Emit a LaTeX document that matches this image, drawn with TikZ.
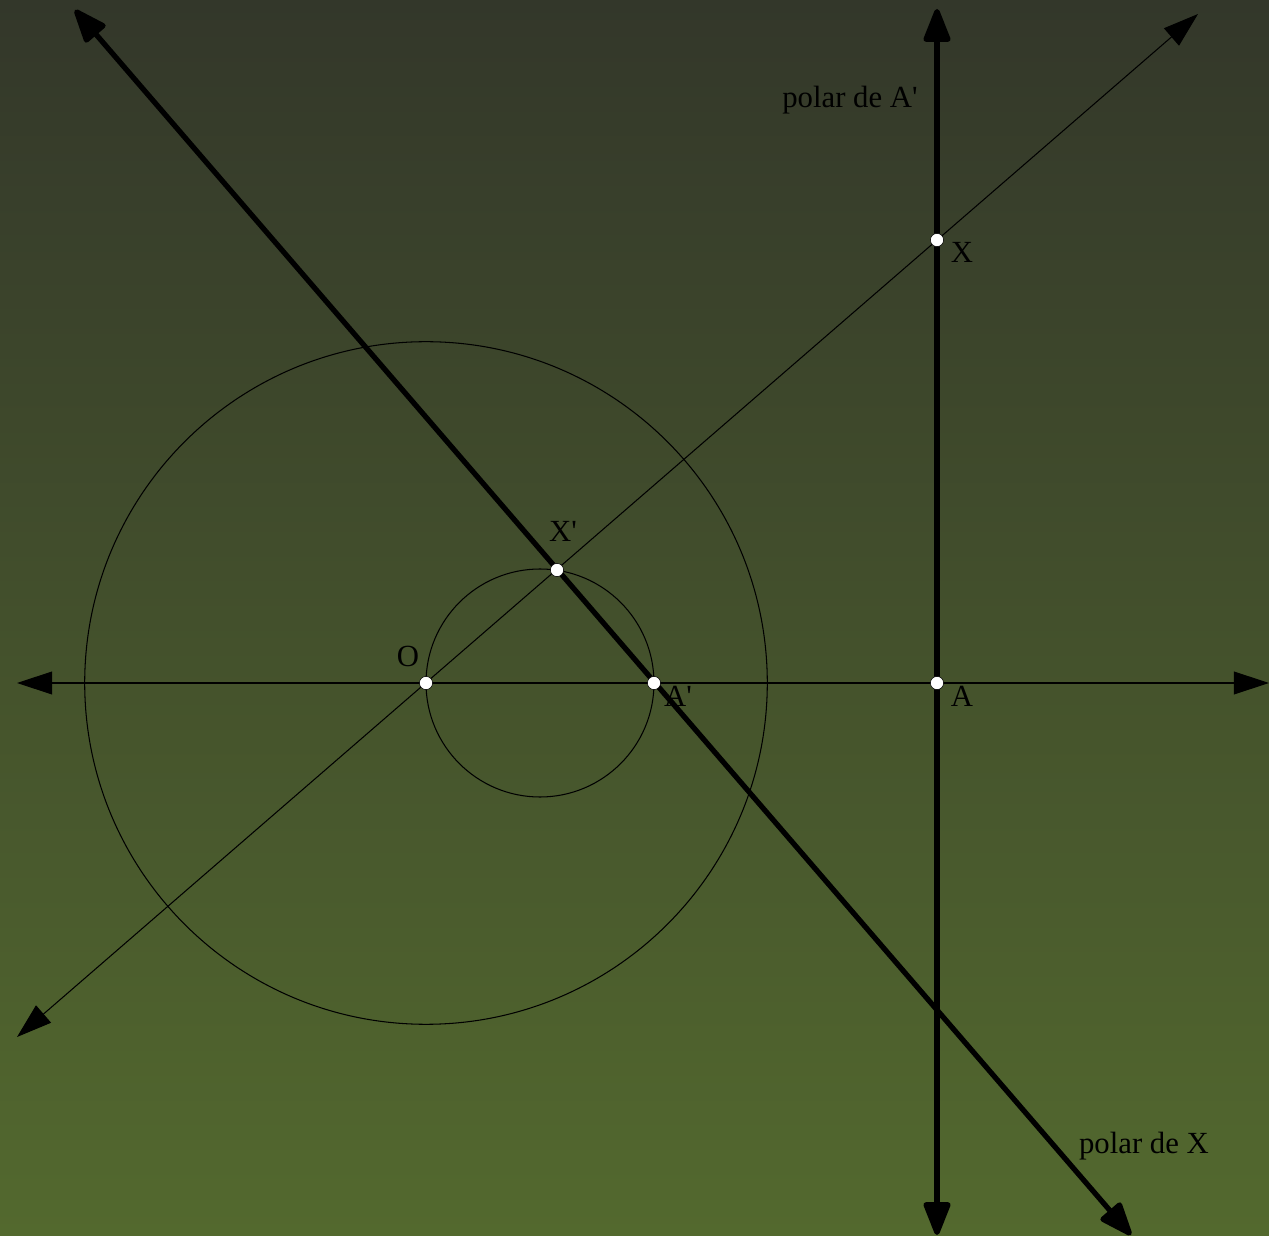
\documentclass[tikz,border=0pt]{standalone}
\usepackage{fontspec}
\setmainfont{Liberation Serif}
\usepackage{tikz}
\usetikzlibrary{arrows.meta}

\definecolor{bgtop}{RGB}{51,55,42}
\definecolor{bgbottom}{RGB}{83,105,46}

\begin{document}
\begin{tikzpicture}[x=0.02cm,y=-0.02cm,
    thin tip/.tip={Triangle[length=20pt,width=13pt]},
    thick tip/.tip={Triangle[length=21.5pt,width=16pt,round]},
    thinline/.style={line width=0.6pt,thin tip-thin tip},
    thickline/.style={line width=3pt,thick tip-thick tip},
    pt/.style={circle,fill=white,draw=black,line width=0.3pt,inner sep=0pt,minimum size=7.5pt},
    lbl/.style={anchor=base,inner sep=0pt,font=\fontsize{17.5}{19}\selectfont}]
                        % Background
                        \useasboundingbox (0,0) rectangle (1269,1236);
                        \shade[top color=bgtop, bottom color=bgbottom] (0,0) rectangle (1269,1236);

                        % Points
                        \coordinate (O) at (426,683);
                        \coordinate (Ap) at (654,683);
                        \coordinate (A) at (937,683);
                        \coordinate (X) at (937,240);
                        \coordinate (Xp) at (557,570);
                        \coordinate (C) at (540,683);

                        % Ends of lines
                        \coordinate (hl) at (17,683);
                        \coordinate (hr) at (1269,683);
                        \coordinate (ol) at (17,1037);
                        \coordinate (or) at (1198,14);
                        \coordinate (pxl) at (75,10);
                        \coordinate (pxr) at (1131,1235);
                        \coordinate (pal) at (937,9);
                        \coordinate (par) at (937,1235);

                        % Circles
                        \draw[line width=0.6pt] (O) circle[radius=341.3];
                        \draw[line width=0.6pt] (C) circle[radius=114];

                        % Lines
                        \draw[thinline] (hl) -- (hr);
                        \draw[thinline] (ol) -- (or);
                        \draw[thickline] (pxl) -- (pxr);
                        \draw[thickline] (pal) -- (par);

                        % Nodes
                        \node[pt] (o) at (O) {};
                        \node[pt] (ap) at (Ap) {};
                        \node[pt] (a) at (A) {};
                        \node[pt] (x) at (X) {};
                        \node[pt] (xp) at (Xp) {};

                        % Labels
                        \node[lbl] (lo) at (408,667) {O};
                        \node[lbl] (lap) at (678,707) {A\textquotesingle};
                        \node[lbl] (la) at (962,707) {A};
                        \node[lbl] (lx) at (962,263) {X};
                        \node[lbl] (lxp) at (563,542) {X\textquotesingle};
                        \node[lbl] (lpa) at (850,108) {polar de A\textquotesingle};
                        \node[lbl] (lpx) at (1144,1153) {polar de X};
\end{tikzpicture}
\end{document}
